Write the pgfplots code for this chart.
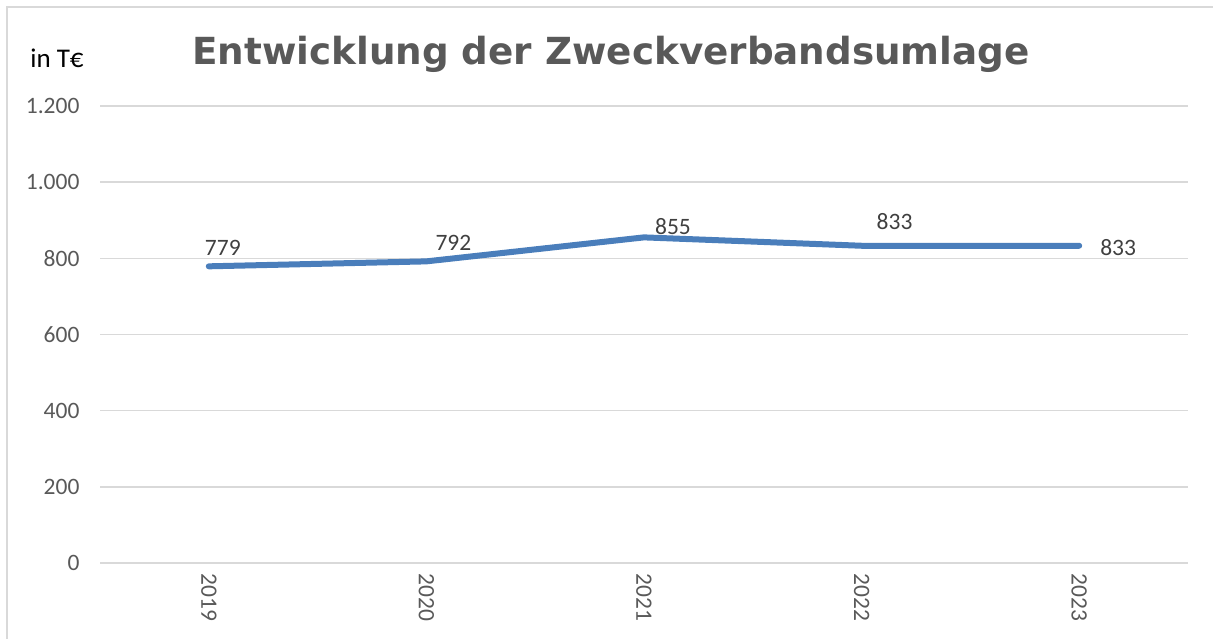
\documentclass[border=0pt]{standalone}
\usepackage{pgfplots}
\pgfplotsset{compat=1.18}
\usepackage{fontspec}
\setmainfont{Carlito}
\newfontfamily\titlefont{DejaVu Sans}
\definecolor{linecol}{HTML}{4A7EBB}
\definecolor{gridcol}{HTML}{D9D9D9}
\definecolor{tickcol}{HTML}{595959}
\definecolor{labcol}{HTML}{404040}
\begin{document}
\begin{tikzpicture}[x=1pt,y=1pt]
\useasboundingbox (0,0) rectangle (1213,639);
\draw[gridcol, line width=2pt] (7,0) -- (7,632) -- (1213,632);
\node[anchor=base, text=tickcol, font=\fontsize{37.3}{44}\titlefont\bfseries] at (611,574) {Entwicklung der Zweckverbandsumlage};
\node[text=black, font=\fontsize{27}{32}\selectfont] at (57,581) {in T€};
\begin{axis}[
  at={(100pt,76pt)}, anchor=south west,
  scale only axis, width=1088pt, height=457pt,
  xmin=-0.5, xmax=4.5, ymin=0, ymax=1200,
  ytick={0,200,400,600,800,1000,1200},
  xtick={0,1,2,3,4},
  xticklabels={2019,2020,2021,2022,2023},
  ymajorgrids, major grid style={gridcol, line width=1.5pt},
  axis line style={draw=none}, tick style={draw=none},
  /pgf/number format/assume math mode=true,
  /pgf/number format/.cd, 1000 sep={.}, use comma, /pgfplots/.cd,
  tick label style={text=tickcol, font=\fontsize{23.5}{28}\selectfont},
  yticklabel style={anchor=east, xshift=-17pt},
  xticklabel style={rotate=-90, anchor=west},
  xticklabel shift=7pt,
  clip=false,
]
\addplot[color=linecol, line width=6pt, line cap=round, line join=round] coordinates {(0,779)(1,792)(2,855)(3,833)(4,833)};
\begin{scope}[every node/.style={text=labcol, font=\fontsize{23.5}{28}\selectfont, inner sep=0pt}]
\node[xshift=14pt, yshift=18pt] at (axis cs:0,779) {779};
\node[xshift=27pt, yshift=18pt] at (axis cs:1,792) {792};
\node[xshift=29pt, yshift=11pt] at (axis cs:2,855) {855};
\node[xshift=33pt, yshift=24pt] at (axis cs:3,833) {833};
\node[xshift=39pt, yshift=-2pt] at (axis cs:4,833) {833};
\end{scope}
\end{axis}
\end{tikzpicture}
\end{document}
